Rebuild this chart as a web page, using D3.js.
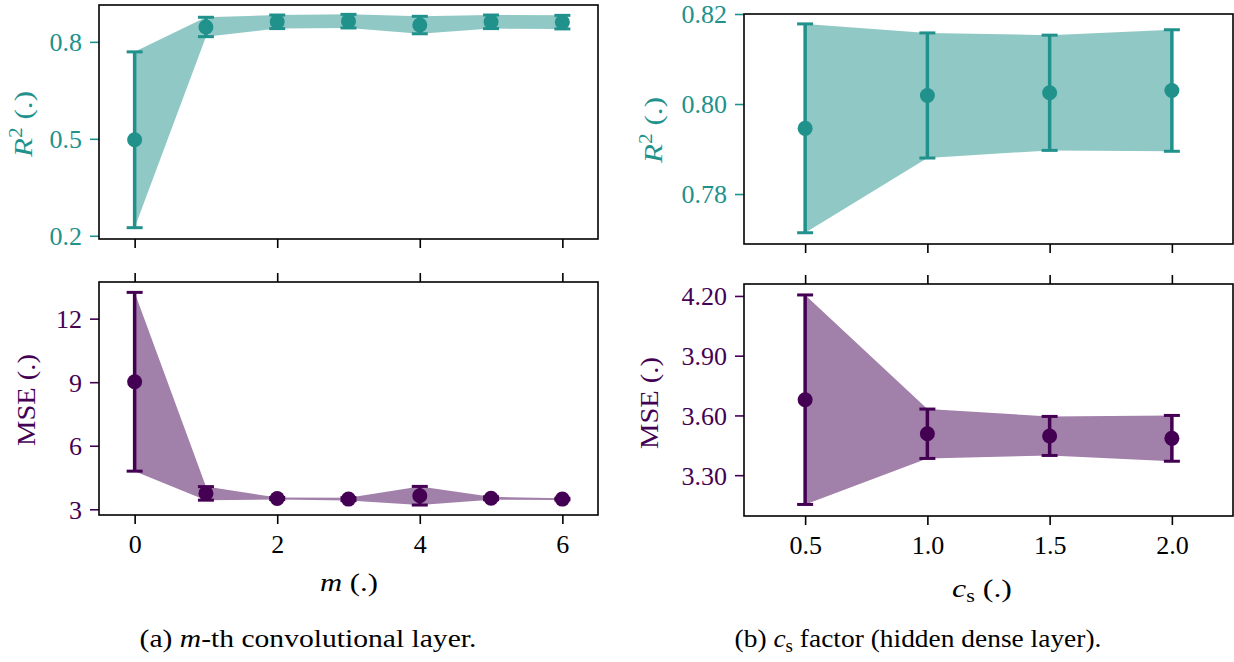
<!DOCTYPE html>
<html>
<head>
<meta charset="utf-8">
<script src="https://cdn.jsdelivr.net/npm/d3@7"></script>
<style>
  body { margin: 0; background: #fff; }
</style>
</head>
<body>
<svg id="chart" width="1234" height="662"></svg>
<script>
// m-th convolutional layer
const mValues = [0, 1, 2, 3, 4, 5, 6];
const r2MeanM = [0.497, 0.846, 0.862, 0.864, 0.852, 0.862, 0.861];
const r2StdM  = [0.272, 0.030, 0.021, 0.021, 0.027, 0.021, 0.021];
const mseMeanM = [9.02, 3.75, 3.51, 3.48, 3.64, 3.52, 3.48];
const mseStdM  = [4.22, 0.32, 0.05, 0.07, 0.44, 0.07, 0.04];

// c_s factor
const csValues = [0.5, 1.0, 1.5, 2.0];
const r2MeanCs = [0.7946, 0.8019, 0.8025, 0.8030];
const r2StdCs  = [0.0232, 0.0139, 0.0128, 0.0135];
const mseMeanCs = [3.679, 3.508, 3.497, 3.485];
const mseStdCs  = [0.526, 0.124, 0.098, 0.115];

// tick labels
const mTicks = [0, 2, 4, 6];
const csTicks = [0.5, 1.0, 1.5, 2.0];
const r2TicksM = [0.2, 0.5, 0.8];
const mseTicksM = [3, 6, 9, 12];
const r2TicksCs = [0.78, 0.80, 0.82];
const mseTicksCs = [3.30, 3.60, 3.90, 4.20];

const teal = "#21918c";
const purple = "#440154";
const FONT = '"Liberation Serif", "Times New Roman", serif';
const FS = 26;

const svg = d3.select("#chart");

// place a label centred at (cx, cy), stretched along its line to the reference width
function placeLabel(t, cx, cy, rot, target) {
  const len = t.node().getComputedTextLength();
  const s = target / len;
  t.attr("transform", `translate(${cx},${cy})${rot ? " rotate(-90)" : ""} scale(${s},1)`);
}

function newText(parent, color) {
  return parent.append("text")
    .attr("x", 0).attr("y", 0)
    .attr("text-anchor", "middle")
    .attr("fill", color || "#000")
    .style("font-family", FONT)
    .style("font-size", FS + "px");
}

function drawPanel(p) {
  const x = d3.scaleLinear().domain(p.xDomain).range(p.xRange);
  const y = d3.scaleLinear().domain(p.yDomain).range(p.yRange);
  const g = svg.append("g");
  const pts = p.xs.map((v, i) => ({ x: v, m: p.mean[i], s: p.std[i] }));

  // band mean +/- std
  const area = d3.area()
    .x(d => x(d.x))
    .y0(d => y(d.m - d.s))
    .y1(d => y(d.m + d.s));
  g.append("path")
    .datum(pts)
    .attr("d", area)
    .attr("fill", p.color)
    .attr("fill-opacity", 0.5);

  // error bars
  const eb = g.selectAll(".eb").data(pts).enter().append("g");
  eb.append("line")
    .attr("x1", d => x(d.x)).attr("x2", d => x(d.x))
    .attr("y1", d => y(d.m - d.s)).attr("y2", d => y(d.m + d.s))
    .attr("stroke", p.color).attr("stroke-width", 3.5);
  [-1, 1].forEach(k => {
    eb.append("line")
      .attr("x1", d => x(d.x) - 8).attr("x2", d => x(d.x) + 8)
      .attr("y1", d => y(d.m + k * d.s)).attr("y2", d => y(d.m + k * d.s))
      .attr("stroke", p.color).attr("stroke-width", 3);
  });
  eb.append("circle")
    .attr("cx", d => x(d.x)).attr("cy", d => y(d.m))
    .attr("r", 7.5)
    .attr("fill", p.color);

  // y axis
  const ya = g.append("g")
    .attr("transform", `translate(${p.xRange[0]},0)`)
    .call(d3.axisLeft(y).tickValues(p.yTicks).tickFormat(d3.format(p.yFormat))
      .tickSize(9).tickPadding(8).tickSizeOuter(0));
  ya.select(".domain").remove();
  ya.selectAll("line").attr("stroke", p.color).attr("stroke-width", 1.6);
  ya.selectAll("text").attr("fill", p.color)
    .style("font-family", FONT).style("font-size", FS + "px").attr("dy", "0.34em");

  // x axis
  const bottom = p.yRange[0], top = p.yRange[1];
  if (p.labels) {
    const xt = g.append("g")
      .attr("transform", `translate(0,${top})`)
      .call(d3.axisTop(x).tickValues(p.xTicks).tickFormat("").tickSize(9).tickSizeOuter(0));
    xt.select(".domain").remove();
    xt.selectAll("line").attr("stroke", "#000").attr("stroke-width", 1.6);
  }
  const xb = g.append("g")
    .attr("transform", `translate(0,${bottom})`)
    .call(d3.axisBottom(x).tickValues(p.xTicks)
      .tickFormat(p.labels ? d3.format(p.xFormat) : "")
      .tickSize(9).tickPadding(8).tickSizeOuter(0));
  xb.select(".domain").remove();
  xb.selectAll("line").attr("stroke", "#000").attr("stroke-width", 1.6);
  xb.selectAll("text").attr("fill", "#000")
    .style("font-family", FONT).style("font-size", FS + "px")
    .attr("dy", null).attr("y", 38);

  // box
  g.append("rect")
    .attr("x", p.xRange[0]).attr("y", top)
    .attr("width", p.xRange[1] - p.xRange[0]).attr("height", bottom - top)
    .attr("fill", "none").attr("stroke", "#000").attr("stroke-width", 1.6);

  // y label
  const lab = newText(g, p.color);
  if (p.r2) {
    lab.append("tspan").style("font-style", "italic").text("R");
    lab.append("tspan").attr("dy", -10).style("font-size", "18px").text("2");
    lab.append("tspan").attr("dy", 10).text(" (.)");
    placeLabel(lab, p.labelX, p.labelY, true, 66);
  } else {
    lab.text("MSE (.)");
    placeLabel(lab, p.labelX, p.labelY, true, 92);
  }
}

const leftX = [99, 598];
const rightX = [744, 1233];

drawPanel({ xs: mValues, mean: r2MeanM, std: r2StdM, color: teal,
  xDomain: [-0.5, 6.5], xRange: leftX, yDomain: [0.19, 0.914], yRange: [239, 5],
  yTicks: r2TicksM, yFormat: ".1f", xTicks: mTicks, labels: false,
  r2: true, labelX: 32, labelY: 124 });

drawPanel({ xs: mValues, mean: mseMeanM, std: mseStdM, color: purple,
  xDomain: [-0.5, 6.5], xRange: leftX, yDomain: [2.73, 13.73], yRange: [515, 282],
  yTicks: mseTicksM, yFormat: "d", xTicks: mTicks, xFormat: "d", labels: true,
  r2: false, labelX: 35, labelY: 400 });

drawPanel({ xs: csValues, mean: r2MeanCs, std: r2StdCs, color: teal,
  xDomain: [0.25, 2.25], xRange: rightX, yDomain: [0.7689, 0.82], yRange: [244, 14],
  yTicks: r2TicksCs, yFormat: ".2f", xTicks: csTicks, labels: false,
  r2: true, labelX: 662, labelY: 130 });

drawPanel({ xs: csValues, mean: mseMeanCs, std: mseStdCs, color: purple,
  xDomain: [0.25, 2.25], xRange: rightX, yDomain: [3.095, 4.26], yRange: [516, 284],
  yTicks: mseTicksCs, yFormat: ".2f", xTicks: csTicks, xFormat: ".1f", labels: true,
  r2: false, labelX: 658, labelY: 403 });

// x labels
const mLab = newText(svg);
mLab.append("tspan").style("font-style", "italic").text("m");
mLab.append("tspan").text(" (.)");
placeLabel(mLab, 349, 591, false, 58);

const cLab = newText(svg);
cLab.append("tspan").style("font-style", "italic").text("c");
cLab.append("tspan").attr("dy", 5).style("font-size", "18px").text("s");
cLab.append("tspan").attr("dy", -5).text(" (.)");
placeLabel(cLab, 982, 597, false, 60);

// captions
const capA = newText(svg);
capA.append("tspan").text("(a) ");
capA.append("tspan").style("font-style", "italic").text("m");
capA.append("tspan").text("-th convolutional layer.");
placeLabel(capA, 308, 647, false, 337);

const capB = newText(svg);
capB.append("tspan").text("(b) ");
capB.append("tspan").style("font-style", "italic").text("c");
capB.append("tspan").attr("dy", 5).style("font-size", "18px").text("s");
capB.append("tspan").attr("dy", -5).text(" factor (hidden dense layer).");
placeLabel(capB, 918, 647, false, 367);
</script>
</body>
</html>
